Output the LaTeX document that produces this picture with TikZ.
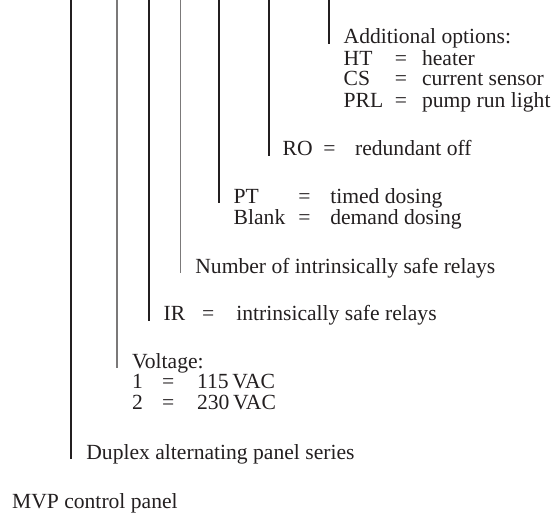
\documentclass[tikz,border=0pt]{standalone}
\usepackage{fontspec}
\setmainfont{Liberation Serif}
\usepackage{xcolor}
\definecolor{inkblack}{HTML}{231F20}

\begin{document}
\begin{tikzpicture}[x=0.5pt, y=-0.5pt,
    txt/.style={anchor=base west, inner sep=0pt, text=inkblack, font=\fontsize{10.8}{10.35}\selectfont},
    lead/.style={draw=inkblack, line width=1pt},
    leadthin/.style={draw=inkblack!60, line width=0.6pt}]
    \useasboundingbox (0,0) rectangle (556,518);
    % tops of the lead lines
    \coordinate (topseries) at (71,0);
    \coordinate (topvolt) at (117,0);
    \coordinate (topir) at (149,0);
    \coordinate (topnum) at (180.5,0);
    \coordinate (topdose) at (219,0);
    \coordinate (topro) at (268.5,0);
    \coordinate (topopt) at (329,0);
    % labels
    \node[txt] (mvp) at (11.7,508) {MVP control panel};
    \node[txt] (series) at (86,459) {Duplex alternating panel series};
    \node[txt] (volt) at (131.7,368) {\begin{tabular}[t]{@{}p{15pt}@{}p{17.5pt}@{}l@{}}
        \multicolumn{3}{@{}l@{}}{Voltage:}\\
        1 & = & 115\,VAC\\
        2 & = & 230\,VAC
    \end{tabular}};
    \node[txt] (ir) at (163.3,320.7) {\begin{tabular}[t]{@{}p{19.2pt}@{}p{17.1pt}@{}l@{}}
        IR & = & intrinsically safe relays
    \end{tabular}};
    \node[txt] (num) at (195,273) {Number of intrinsically safe relays};
    \node[txt] (dose) at (233.3,203.3) {\begin{tabular}[t]{@{}p{32.3pt}@{}p{16pt}@{}l@{}}
        PT & = & timed dosing\\
        Blank & = & demand dosing
    \end{tabular}};
    \node[txt] (ro) at (282.3,156) {\begin{tabular}[t]{@{}p{20.4pt}@{}p{15.8pt}@{}l@{}}
        RO & = & redundant off
    \end{tabular}};
    \node[txt] (opt) at (343.3,44) {\begin{tabular}[t]{@{}p{25.6pt}@{}p{13.6pt}@{}l@{}}
        \multicolumn{3}{@{}l@{}}{Additional options:}\\
        HT & = & heater\\
        CS & = & current sensor\\
        PRL & = & pump run light
    \end{tabular}};
    % lead lines
    \draw[lead] (topseries) -- (topseries |- series.base);
    \draw[leadthin] (topvolt) -- (topvolt |- volt.base);
    \draw[lead] (topir) -- (topir |- ir.base);
    \draw[leadthin] (topnum) -- (topnum |- num.base);
    \draw[lead] (topdose) -- (topdose |- dose.base);
    \draw[lead] (topro) -- (topro |- ro.base);
    \draw[lead] (topopt) -- (topopt |- opt.base);
\end{tikzpicture}
\end{document}
